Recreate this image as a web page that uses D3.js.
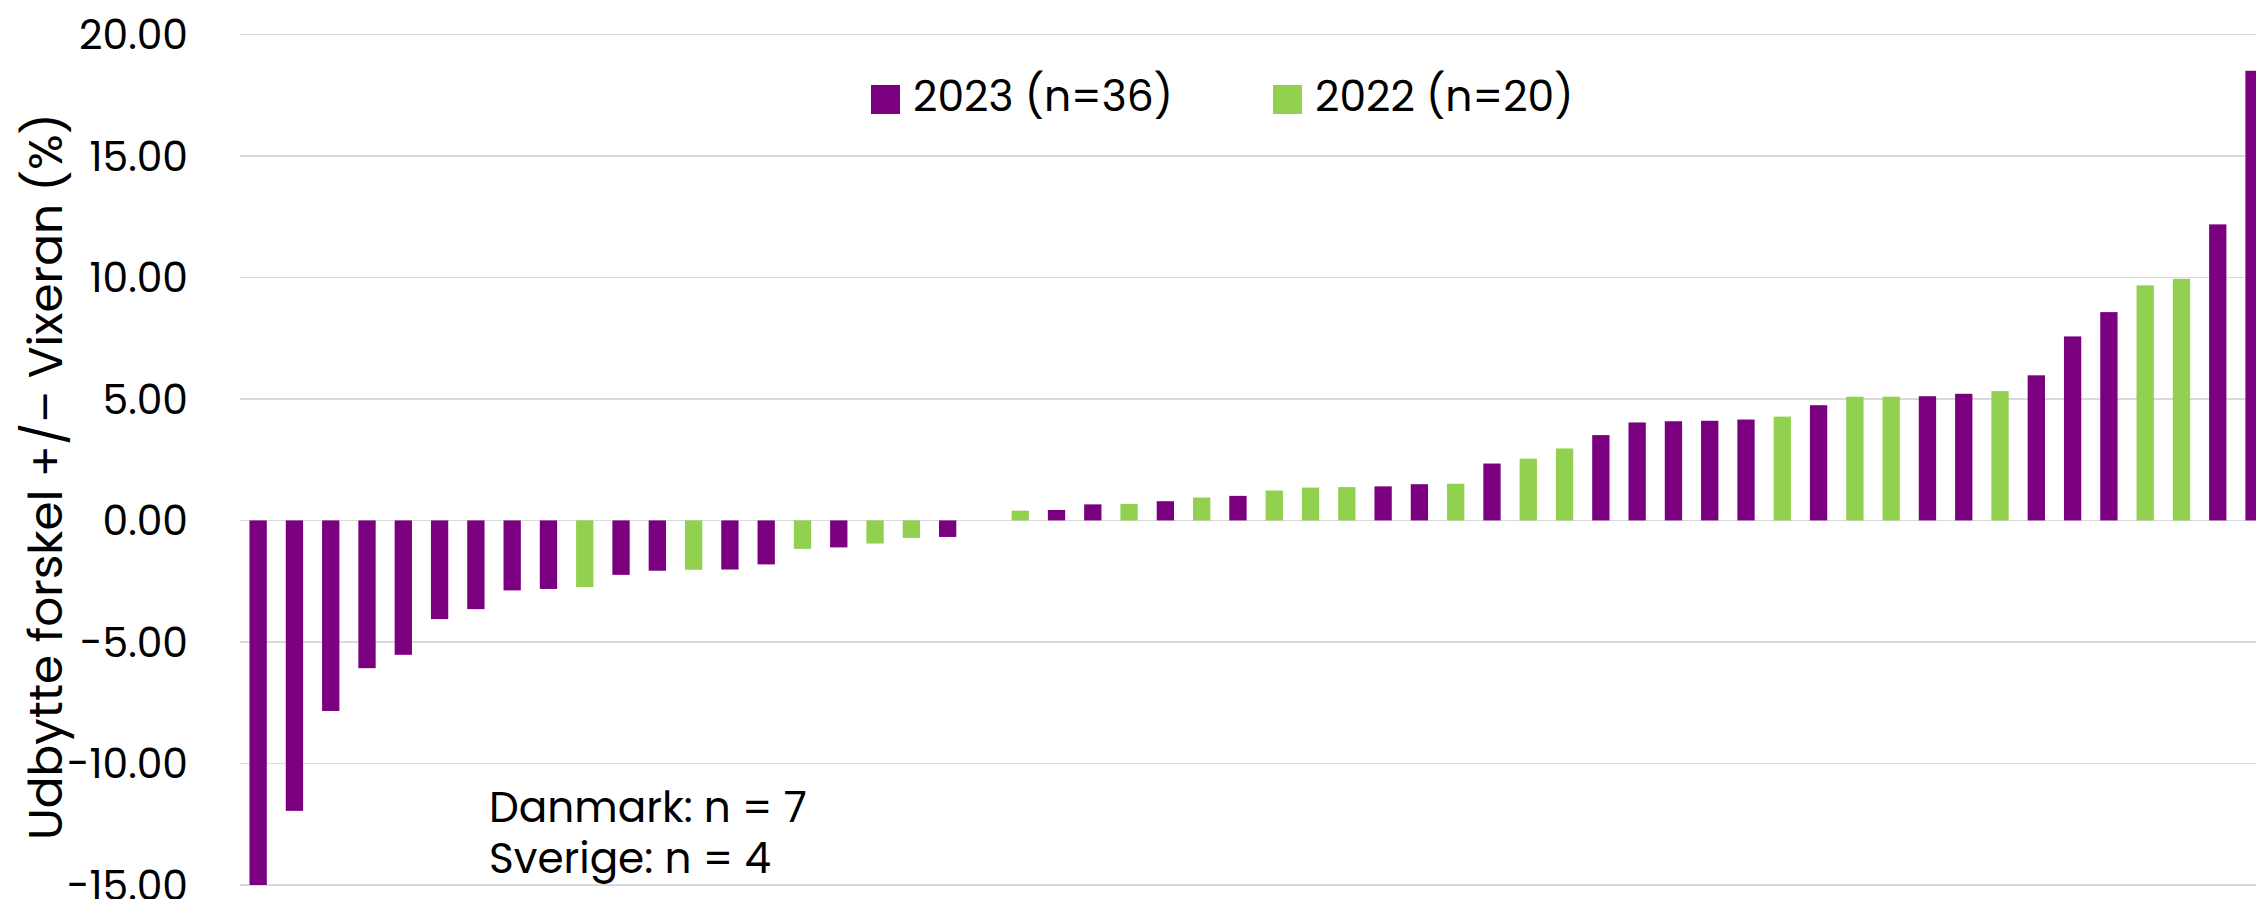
<!DOCTYPE html>
<html>
<head>
<meta charset="utf-8">
<script src="https://cdn.jsdelivr.net/npm/d3@7/dist/d3.min.js"></script>
<style>
  html, body { margin: 0; padding: 0; background: #ffffff; overflow: hidden; }
  svg { display: block; }
  text { font-family: "Poppins", "Inter", "Open Sans", sans-serif; fill: #000; }
</style>
</head>
<body>
<svg id="chart" width="2256" height="899"></svg>
<script>
// ---- data (sorted ascending) ----
const values = [
  -15.00, -11.95, -7.84, -6.08, -5.53, -4.06, -3.65, -2.88, -2.82, -2.74,
  -2.24, -2.07, -2.03, -2.02, -1.81, -1.17, -1.11, -0.95, -0.72, -0.68,
  0.00, 0.40, 0.43, 0.66, 0.68, 0.79, 0.94, 1.01, 1.23, 1.35,
  1.37, 1.40, 1.49, 1.51, 2.34, 2.54, 2.96, 3.51, 4.03, 4.08,
  4.10, 4.15, 4.27, 4.74, 5.09, 5.09, 5.11, 5.21, 5.32, 5.97,
  7.57, 8.57, 9.67, 9.94, 12.18, 18.50
];
const years = [
  "2023","2023","2023","2023","2023","2023","2023","2023","2023","2022",
  "2023","2023","2022","2023","2023","2022","2023","2022","2022","2023",
  "2023","2022","2023","2023","2022","2023","2022","2023","2022","2022",
  "2022","2023","2023","2022","2023","2022","2022","2023","2023","2023",
  "2023","2023","2022","2023","2022","2022","2023","2023","2022","2023",
  "2023","2023","2022","2022","2023","2023"
];
const seriesKeys = ["2023", "2022"];
const seriesLabels = ["2023 (n=36)", "2022 (n=20)"];
const seriesColors = ["#7a0080", "#92d050"];
const yTicks = [-15, -10, -5, 0, 5, 10, 15, 20];
const yTitle = "Udbytte forskel +/– Vixeran (%)";
const noteLines = ["Danmark: n = 7", "Sverige: n = 4"];

// ---- layout ----
const W = 2256, H = 899;
const plotLeft = 240, plotRight = 2272.2;   // plot continues past the cropped right edge
const yTop = 34.3, yBottom = 885;

const svg = d3.select("#chart");
const color = d3.scaleOrdinal().domain(seriesKeys).range(seriesColors);

const categories = values.map((v, i) => String(i + 1));
const x = d3.scaleBand()
  .domain(categories)
  .range([plotLeft, plotRight])
  .paddingInner(0.523)
  .paddingOuter(0.2615);

const y = d3.scaleLinear().domain([-15, 20]).range([yBottom, yTop]);

// fit helper: scale font-size so that the rendered width matches the reference
function fitSize(sampleText, base, target, extra) {
  const t = svg.append("text").attr("font-size", base).text(sampleText);
  if (extra) extra(t);
  const w = t.node().getComputedTextLength();
  t.remove();
  return w > 0 ? base * target / w : base;
}

// gridlines
svg.append("g").attr("class", "grid")
  .selectAll("line").data(yTicks).join("line")
  .attr("x1", plotLeft).attr("x2", W)
  .attr("y1", d => y(d)).attr("y2", d => y(d))
  .attr("stroke", "#d9d9d9").attr("stroke-width", 1.5)
  .attr("shape-rendering", "crispEdges");

// y axis labels via d3 axis
const tickSize = fitSize("20.00", 40, 109);
const yAxis = d3.axisLeft(y).tickValues(yTicks).tickSize(0).tickPadding(0)
  .tickFormat(d => (d < 0 ? "-" + d3.format(".2f")(-d) : d3.format(".2f")(d)));
const gAxis = svg.append("g").attr("transform", "translate(188,0)").call(yAxis);
gAxis.select(".domain").remove();
gAxis.selectAll("text")
  .attr("font-size", tickSize)
  .attr("font-family", "Poppins, Inter, 'Open Sans', sans-serif")
  .attr("fill", "#000")
  .attr("dy", "0.35em")
  .attr("x", 0);

// bars
svg.append("g").selectAll("rect").data(values).join("rect")
  .attr("x", (d, i) => x(categories[i]))
  .attr("width", x.bandwidth())
  .attr("y", d => y(Math.max(0, d)))
  .attr("height", d => Math.abs(y(d) - y(0)))
  .attr("fill", (d, i) => color(years[i]));

// y title
const titleSize = fitSize(yTitle, 46, 727);
svg.append("text")
  .attr("transform", `translate(62,${(840 + 113) / 2}) rotate(-90)`)
  .attr("text-anchor", "middle")
  .attr("font-size", titleSize)
  .text(yTitle);

// legend
const legSize = fitSize(seriesLabels[0], 44, 260);
const legX = [871, 1273];
const leg = svg.append("g").selectAll("g").data(seriesKeys).join("g")
  .attr("transform", (d, i) => `translate(${legX[i]},85)`);
leg.append("rect").attr("width", 29).attr("height", 29).attr("fill", d => color(d));
leg.append("text").attr("x", 42).attr("y", 26).attr("font-size", legSize)
  .text((d, i) => seriesLabels[i]);

// note
const noteSize = fitSize(noteLines[0], 42, 318);
svg.append("g").selectAll("text").data(noteLines).join("text")
  .attr("x", 489).attr("y", (d, i) => 822 + i * 51)
  .attr("font-size", noteSize)
  .text(d => d);
</script>
</body>
</html>
